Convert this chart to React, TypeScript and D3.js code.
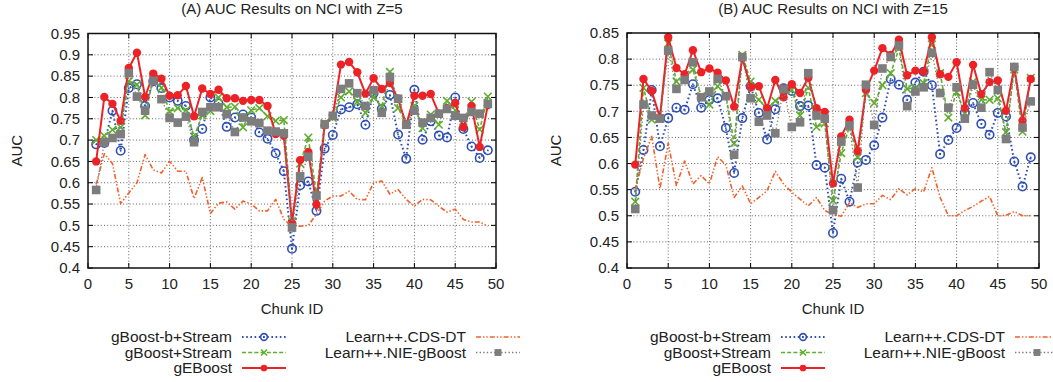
import React from 'react';
import * as d3 from 'd3';

// Chunk index on the x axis
const chunkIds = [
  1, 2, 3, 4, 5, 6, 7, 8, 9, 10, 11, 12, 13, 14, 15, 16, 17, 18, 19, 20, 21, 22, 23, 24, 25,
  26, 27, 28, 29, 30, 31, 32, 33, 34, 35, 36, 37, 38, 39, 40, 41, 42, 43, 44, 45, 46, 47, 48, 49,
];

const xTickValues = [0, 5, 10, 15, 20, 25, 30, 35, 40, 45, 50];
const yTickLabelsA = ['0.4', '0.45', '0.5', '0.55', '0.6', '0.65', '0.7', '0.75', '0.8', '0.85', '0.9', '0.95'];
const yTickLabelsB = ['0.4', '0.45', '0.5', '0.55', '0.6', '0.65', '0.7', '0.75', '0.8', '0.85'];

// ---- Panel A: Z=5 ----
const gBoostBStreamA = [
  0.690, 0.693, 0.769, 0.675, 0.822, 0.831, 0.780, 0.838, 0.822, 0.800,
  0.792, 0.780, 0.700, 0.726, 0.800, 0.786, 0.731, 0.753, 0.760, 0.753,
  0.718, 0.703, 0.669, 0.627, 0.445, 0.594, 0.603, 0.534, 0.680, 0.712,
  0.772, 0.777, 0.784, 0.736, 0.810, 0.773, 0.806, 0.713, 0.656, 0.818,
  0.701, 0.744, 0.711, 0.706, 0.800, 0.726, 0.685, 0.658, 0.676,
];
const gBoostStreamA = [
  0.700, 0.710, 0.724, 0.730, 0.838, 0.830, 0.758, 0.845, 0.823, 0.767,
  0.775, 0.770, 0.708, 0.758, 0.768, 0.800, 0.777, 0.778, 0.730, 0.770,
  0.775, 0.756, 0.745, 0.747, 0.510, 0.645, 0.706, 0.570, 0.740, 0.752,
  0.800, 0.814, 0.790, 0.764, 0.800, 0.779, 0.860, 0.775, 0.740, 0.780,
  0.728, 0.760, 0.736, 0.792, 0.770, 0.745, 0.790, 0.725, 0.802,
];
const gEBoostA = [
  0.650, 0.801, 0.785, 0.745, 0.869, 0.905, 0.801, 0.856, 0.844, 0.804,
  0.805, 0.827, 0.756, 0.821, 0.808, 0.818, 0.798, 0.798, 0.792, 0.794,
  0.794, 0.780, 0.714, 0.710, 0.505, 0.653, 0.672, 0.549, 0.735, 0.757,
  0.877, 0.883, 0.859, 0.809, 0.845, 0.820, 0.834, 0.797, 0.736, 0.804,
  0.804, 0.808, 0.762, 0.775, 0.787, 0.730, 0.780, 0.684, 0.782,
];
const cdsDtA = [
  0.596, 0.668, 0.645, 0.551, 0.576, 0.600, 0.666, 0.630, 0.623, 0.650,
  0.627, 0.627, 0.563, 0.612, 0.528, 0.552, 0.555, 0.538, 0.557, 0.550,
  0.534, 0.534, 0.561, 0.514, 0.498, 0.498, 0.500, 0.526, 0.557, 0.569,
  0.569, 0.580, 0.561, 0.560, 0.600, 0.604, 0.573, 0.584, 0.561, 0.545,
  0.561, 0.560, 0.545, 0.531, 0.538, 0.514, 0.508, 0.508, 0.498,
];
const nieGBoostA = [
  0.583, 0.695, 0.705, 0.714, 0.857, 0.802, 0.769, 0.839, 0.796, 0.752,
  0.741, 0.755, 0.695, 0.766, 0.777, 0.777, 0.761, 0.719, 0.753, 0.744,
  0.740, 0.722, 0.720, 0.716, 0.495, 0.615, 0.661, 0.570, 0.737, 0.757,
  0.820, 0.833, 0.810, 0.780, 0.817, 0.764, 0.848, 0.797, 0.736, 0.769,
  0.741, 0.752, 0.762, 0.773, 0.757, 0.752, 0.766, 0.762, 0.785,
];

// ---- Panel B: Z=15 ----
const gBoostBStreamB = [
  0.546, 0.626, 0.741, 0.633, 0.687, 0.707, 0.703, 0.752, 0.707, 0.722,
  0.725, 0.668, 0.582, 0.687, 0.748, 0.697, 0.646, 0.704, 0.744, 0.739,
  0.710, 0.711, 0.597, 0.592, 0.467, 0.571, 0.527, 0.602, 0.607, 0.635,
  0.688, 0.762, 0.751, 0.722, 0.755, 0.776, 0.750, 0.618, 0.645, 0.668,
  0.697, 0.716, 0.676, 0.655, 0.697, 0.690, 0.604, 0.556, 0.612,
];
const gBoostStreamB = [
  0.527, 0.745, 0.684, 0.687, 0.830, 0.757, 0.764, 0.780, 0.729, 0.713,
  0.748, 0.732, 0.639, 0.808, 0.757, 0.722, 0.705, 0.720, 0.729, 0.741,
  0.692, 0.745, 0.670, 0.677, 0.529, 0.620, 0.671, 0.612, 0.735, 0.716,
  0.750, 0.773, 0.820, 0.743, 0.745, 0.754, 0.828, 0.773, 0.688, 0.737,
  0.697, 0.757, 0.722, 0.722, 0.725, 0.660, 0.780, 0.661, 0.764,
];
const gEBoostB = [
  0.598, 0.762, 0.739, 0.688, 0.842, 0.783, 0.771, 0.817, 0.775, 0.782,
  0.774, 0.759, 0.709, 0.802, 0.746, 0.748, 0.706, 0.760, 0.727, 0.752,
  0.735, 0.764, 0.706, 0.699, 0.562, 0.652, 0.684, 0.624, 0.741, 0.778,
  0.821, 0.808, 0.837, 0.769, 0.778, 0.776, 0.842, 0.771, 0.766, 0.794,
  0.706, 0.789, 0.733, 0.756, 0.759, 0.701, 0.785, 0.682, 0.762,
];
const cdsDtB = [
  0.550, 0.610, 0.652, 0.552, 0.639, 0.558, 0.605, 0.561, 0.577, 0.561,
  0.613, 0.597, 0.535, 0.557, 0.523, 0.535, 0.548, 0.585, 0.561, 0.545,
  0.532, 0.519, 0.535, 0.510, 0.503, 0.499, 0.525, 0.516, 0.523, 0.523,
  0.539, 0.531, 0.552, 0.540, 0.552, 0.546, 0.592, 0.535, 0.500, 0.500,
  0.510, 0.518, 0.528, 0.537, 0.500, 0.501, 0.508, 0.500, 0.500,
];
const nieGBoostB = [
  0.513, 0.713, 0.692, 0.686, 0.816, 0.743, 0.760, 0.794, 0.727, 0.738,
  0.762, 0.729, 0.617, 0.804, 0.725, 0.680, 0.692, 0.658, 0.743, 0.670,
  0.679, 0.773, 0.692, 0.686, 0.511, 0.642, 0.673, 0.554, 0.751, 0.674,
  0.782, 0.804, 0.826, 0.710, 0.738, 0.746, 0.812, 0.735, 0.707, 0.746,
  0.686, 0.751, 0.707, 0.775, 0.741, 0.647, 0.785, 0.669, 0.719,
];

type Marker = 'ring' | 'cross' | 'dot' | 'square' | 'none';
interface SeriesStyle {
  name: string;
  color: string;
  dash: string;
  width: number;
  marker: Marker;
}

const styles: SeriesStyle[] = [
  { name: 'gBoost-b+Stream', color: '#2f4fb4', dash: '1.6,2.6', width: 2, marker: 'ring' },
  { name: 'gBoost+Stream', color: '#5fae2e', dash: '4,2.2', width: 1.6, marker: 'cross' },
  { name: 'gEBoost', color: '#ec2226', dash: '', width: 2, marker: 'dot' },
  { name: 'Learn++.CDS-DT', color: '#f2602a', dash: '5,2,1.4,2,1.4,2', width: 1.6, marker: 'none' },
  { name: 'Learn++.NIE-gBoost', color: '#7d7d7d', dash: '1.4,2.2', width: 1.3, marker: 'square' },
];

const FONT = "'Liberation Sans', Arial, Helvetica, sans-serif";

interface PanelSpec {
  title: string;
  left: number;
  right: number;
  top: number;
  bottom: number;
  yLabels: string[];
  data: number[][];
}

const panels: PanelSpec[] = [
  {
    title: '(A) AUC Results on NCI with Z=5',
    left: 88, right: 496, top: 33.5, bottom: 268,
    yLabels: yTickLabelsA,
    data: [gBoostBStreamA, gBoostStreamA, gEBoostA, cdsDtA, nieGBoostA],
  },
  {
    title: '(B) AUC Results on NCI with Z=15',
    left: 627, right: 1039, top: 33, bottom: 268,
    yLabels: yTickLabelsB,
    data: [gBoostBStreamB, gBoostStreamB, gEBoostB, cdsDtB, nieGBoostB],
  },
];

function MarkerShape({ kind, x, y, color, k = 1 }: { kind: Marker; x: number; y: number; color: string; k?: number }) {
  if (kind === 'ring') {
    return (
      <g>
        <circle cx={x} cy={y} r={4.2 * k} fill="none" stroke={color} strokeWidth={1.6} />
        <circle cx={x} cy={y} r={0.9} fill={color} />
      </g>
    );
  }
  if (kind === 'cross') {
    const s = 3.8 * k;
    return (
      <path
        d={`M${x - s},${y - s}L${x + s},${y + s}M${x - s},${y + s}L${x + s},${y - s}`}
        stroke={color}
        strokeWidth={1.6}
        fill="none"
      />
    );
  }
  if (kind === 'dot') {
    return <circle cx={x} cy={y} r={4.2 * k} fill={color} />;
  }
  if (kind === 'square') {
    const h = 4.3 * k;
    return <rect x={x - h} y={y - h} width={2 * h} height={2 * h} fill={color} />;
  }
  return null;
}

function Panel({ spec }: { spec: PanelSpec }) {
  const yTickValues = spec.yLabels.map((s) => parseFloat(s));
  const x = d3.scaleLinear().domain([0, 50]).range([spec.left, spec.right]);
  const y = d3
    .scaleLinear()
    .domain([yTickValues[0], yTickValues[yTickValues.length - 1]])
    .range([spec.bottom, spec.top]);
  const line = d3
    .line<number>()
    .x((_, i) => x(chunkIds[i]))
    .y((d) => y(d));
  const cx = (spec.left + spec.right) / 2;
  const cy = (spec.top + spec.bottom) / 2;
  const tick = 5;

  const legendRows = [337, 352.5, 368];
  const legendCols = [spec.left + 144, spec.left + 378];

  return (
    <g>
      {/* grid */}
      {xTickValues.slice(1, -1).map((t) => (
        <line key={`gx${t}`} x1={x(t)} x2={x(t)} y1={spec.top} y2={spec.bottom}
          stroke="#555" strokeWidth={0.9} strokeDasharray="1,2.2" />
      ))}
      {yTickValues.slice(1, -1).map((t) => (
        <line key={`gy${t}`} x1={spec.left} x2={spec.right} y1={y(t)} y2={y(t)}
          stroke="#555" strokeWidth={0.9} strokeDasharray="1,2.2" />
      ))}
      {/* inward ticks */}
      {xTickValues.map((t) => (
        <g key={`tx${t}`}>
          <line x1={x(t)} x2={x(t)} y1={spec.bottom} y2={spec.bottom - tick} stroke="#000" strokeWidth={1} />
          <line x1={x(t)} x2={x(t)} y1={spec.top} y2={spec.top + tick} stroke="#000" strokeWidth={1} />
        </g>
      ))}
      {yTickValues.map((t) => (
        <g key={`ty${t}`}>
          <line x1={spec.left} x2={spec.left + tick} y1={y(t)} y2={y(t)} stroke="#000" strokeWidth={1} />
          <line x1={spec.right} x2={spec.right - tick} y1={y(t)} y2={y(t)} stroke="#000" strokeWidth={1} />
        </g>
      ))}
      {/* series */}
      {styles.map((s, si) => (
        <g key={s.name}>
          <path d={line(spec.data[si]) ?? ''} fill="none" stroke={s.color} strokeWidth={s.width}
            strokeDasharray={s.dash || undefined} strokeLinejoin="round" />
          {spec.data[si].map((v, i) => (
            <MarkerShape key={i} kind={s.marker} x={x(chunkIds[i])} y={y(v)} color={s.color} />
          ))}
        </g>
      ))}
      {/* frame */}
      <rect x={spec.left} y={spec.top} width={spec.right - spec.left} height={spec.bottom - spec.top}
        fill="none" stroke="#111" strokeWidth={1.5} />
      {/* tick labels */}
      {yTickValues.map((t, i) => (
        <text key={`ly${t}`} x={spec.left - 8} y={y(t)} dy="0.35em" textAnchor="end"
          fontSize={15} fontFamily={FONT} fill="#222">{spec.yLabels[i]}</text>
      ))}
      {xTickValues.map((t) => (
        <text key={`lx${t}`} x={x(t)} y={spec.bottom + 21} textAnchor="middle"
          fontSize={15} fontFamily={FONT} fill="#222">{t}</text>
      ))}
      {/* titles */}
      <text x={cx} y={14} textAnchor="middle" fontSize={15} fontFamily={FONT} fill="#222">{spec.title}</text>
      <text x={cx} y={314} textAnchor="middle" fontSize={15} fontFamily={FONT} fill="#222">Chunk ID</text>
      <text transform={`translate(${spec.left - 71},${cy}) rotate(-90)`} textAnchor="middle"
        dy="0.35em" fontSize={15} fontFamily={FONT} fill="#222">AUC</text>
      {/* legend */}
      {styles.map((s, si) => {
        const col = si < 3 ? 0 : 1;
        const row = si < 3 ? si : si - 3;
        const tx = legendCols[col];
        const ly = legendRows[row];
        const x1 = tx + 10;
        const x2 = tx + 54;
        return (
          <g key={`lg${s.name}`}>
            <text x={tx} y={ly} dy="0.35em" textAnchor="end" fontSize={15.5} fontFamily={FONT} fill="#222">{s.name}</text>
            <line x1={x1} x2={x2} y1={ly} y2={ly} stroke={s.color} strokeWidth={s.width}
              strokeDasharray={s.dash || undefined} />
            <MarkerShape kind={s.marker} x={(x1 + x2) / 2} y={ly} color={s.color} k={0.8} />
          </g>
        );
      })}
    </g>
  );
}

export default function App() {
  return (
    <svg width={1053} height={382} style={{ position: 'absolute', left: 0, top: 0, background: '#fff' }}>
      <rect width={1053} height={382} fill="#fff" />
      {panels.map((p) => (
        <Panel key={p.title} spec={p} />
      ))}
    </svg>
  );
}
